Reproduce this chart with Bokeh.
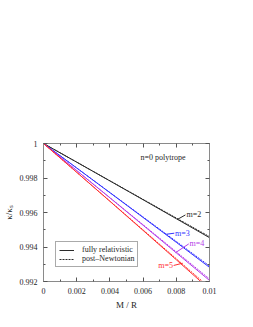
from bokeh.plotting import figure
from bokeh.models import (FixedTicker, Label, Legend, LegendItem, LinearAxis,
                          Range1d)
from bokeh.embed import file_html
from bokeh.resources import INLINE

# ---- data -------------------------------------------------------------
mr = [0.0, 0.002, 0.004, 0.006, 0.008, 0.010]

m2_full = [1.0, 0.99892, 0.99783, 0.99674, 0.99564, 0.99454]
m2_pn   = [1.0, 0.99892, 0.99784, 0.99676, 0.99568, 0.99460]
m3_full = [1.0, 0.99858, 0.99715, 0.99571, 0.99427, 0.99282]
m3_pn   = [1.0, 0.99858, 0.99716, 0.99574, 0.99432, 0.99290]
m4_full = [1.0, 0.99843, 0.99685, 0.99526, 0.99366, 0.99206]
m4_pn   = [1.0, 0.99843, 0.99686, 0.99529, 0.99372, 0.99215]
m5_full = [1.0, 0.99833, 0.99665, 0.99496, 0.99326, 0.99155]
m5_pn   = [1.0, 0.99833, 0.99666, 0.99499, 0.99332, 0.99165]

series_names = ["m=2", "m=3", "m=4", "m=5"]
series_colors = ["#2a2a2a", "#3333ff", "#b43ce8", "#ff3030"]

x_ticks = [0, 0.002, 0.004, 0.006, 0.008, 0.01]
x_tick_labels = ["0", "0.002", "0.004", "0.006", "0.008", "0.01"]
x_minor = [0.001, 0.003, 0.005, 0.007, 0.009]
y_ticks = [0.992, 0.994, 0.996, 0.998, 1]
y_tick_labels = ["0.992", "0.994", "0.996", "0.998", "1"]
y_minor = [0.993, 0.995, 0.997, 0.999]

FONT = "Liberation Serif"
TXT = "#262626"

p = figure(frame_width=166, frame_height=138,
           min_border_left=35, min_border_right=35,
           min_border_top=143, min_border_bottom=30,
           x_range=Range1d(0, 0.01), y_range=Range1d(0.992, 1.0),
           x_axis_label="M / R", y_axis_label="κ/κₛ",
           output_backend="svg", toolbar_location=None)
p.xgrid.visible = False
p.ygrid.visible = False
p.outline_line_color = "#8a8a8a"
p.background_fill_color = "white"
p.border_fill_color = "white"

p.xaxis.ticker = FixedTicker(ticks=x_ticks, minor_ticks=x_minor)
p.yaxis.ticker = FixedTicker(ticks=y_ticks, minor_ticks=y_minor)
p.xaxis.major_label_overrides = dict(zip(x_ticks, x_tick_labels))
p.yaxis.major_label_overrides = dict(zip(y_ticks, y_tick_labels))

right_ax = LinearAxis(ticker=FixedTicker(ticks=y_ticks, minor_ticks=y_minor))
top_ax = LinearAxis(ticker=FixedTicker(ticks=x_ticks, minor_ticks=x_minor))
p.add_layout(right_ax, "right")
p.add_layout(top_ax, "above")

for ax in p.axis:
    ax.axis_line_color = "#8a8a8a"
    ax.major_tick_line_color = "#555555"
    ax.minor_tick_line_color = "#555555"
    ax.major_tick_in = 4
    ax.major_tick_out = 0
    ax.minor_tick_in = 2
    ax.minor_tick_out = 0
    ax.major_label_text_font = FONT
    ax.major_label_text_font_size = "8px"
    ax.major_label_text_color = TXT
    ax.major_label_standoff = 6
    ax.axis_label_text_font = FONT
    ax.axis_label_text_font_size = "9px"
    ax.axis_label_text_font_style = "normal"
    ax.axis_label_text_color = TXT
    ax.axis_label_standoff = 3

for ax in (right_ax, top_ax):
    ax.major_label_text_font_size = "0px"
    ax.major_label_text_alpha = 0
    ax.major_label_standoff = 0

fulls = [m2_full, m3_full, m4_full, m5_full]
pns = [m2_pn, m3_pn, m4_pn, m5_pn]
solid_r = []
dash_r = []
for full, pn, col in zip(fulls, pns, series_colors):
    solid_r.append(p.line(mr, full, line_color=col, line_width=1))
    dash_r.append(p.line(mr, pn, line_color=col, line_width=1, line_dash="2 1"))

# curve labels with short leader lines
lab_pos = [(0.00861, 0.99586, "left"), (0.00792, 0.99480, "left"),
           (0.00880, 0.99420, "left"), (0.00780, 0.99293, "right")]
lead = [((0.00807, 0.99560), (0.00855, 0.99586)),
        ((0.00740, 0.99474), (0.00788, 0.99480)),
        ((0.00795, 0.99367), (0.00875, 0.99418)),
        ((0.00838, 0.99306), (0.00784, 0.99293))]
for name, col, (lx, ly, al), ((x0, y0), (x1, y1)) in zip(series_names, series_colors, lab_pos, lead):
    p.segment(x0=[x0], y0=[y0], x1=[x1], y1=[y1], line_color=col, line_width=1)
    p.add_layout(Label(x=lx, y=ly, text=name, text_color=col, text_font=FONT,
                       text_font_size="8px", text_align=al, text_baseline="middle"))

p.add_layout(Label(x=0.00584, y=0.99919, text="n=0 polytrope", text_font=FONT,
                   text_font_size="8px", text_baseline="middle", text_color=TXT))

legend = Legend(items=[LegendItem(label="fully relativistic", renderers=[solid_r[0]]),
                       LegendItem(label="post\u2013Newtonian", renderers=[dash_r[0]])],
                location=(12, 14))
legend.label_text_font = FONT
legend.label_text_font_size = "8px"
legend.label_text_color = TXT
legend.glyph_width = 15
legend.glyph_height = 8
legend.label_height = 8
legend.label_standoff = 8
legend.spacing = 0
legend.padding = 3
legend.margin = 0
legend.border_line_color = "#555555"
legend.border_line_width = 1
legend.background_fill_alpha = 1
p.add_layout(legend)

open("out.html", "w").write(file_html(p, INLINE))
